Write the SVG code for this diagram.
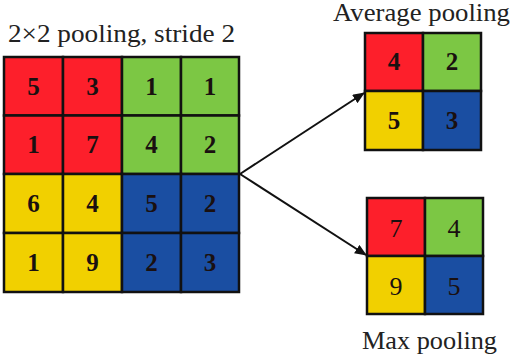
<svg xmlns="http://www.w3.org/2000/svg" width="512" height="354" viewBox="0 0 512 354">
<defs>
<style>
.r{fill:#fd1f2b}.g{fill:#7cc744}.y{fill:#f1d000}.b{fill:#1a4ea2}
.cell{stroke:#111;stroke-width:2.5}
.nb{font-family:'Liberation Serif','Times New Roman',Tinos,serif;font-weight:700;font-size:25px;text-anchor:middle;fill:#1a1010}
.nr{font-family:'Liberation Serif','Times New Roman',Tinos,serif;font-size:26px;text-anchor:middle;fill:#1a1010}
.lbl{font-family:'Liberation Serif','Times New Roman',Tinos,serif;font-size:25px;fill:#222}
.conn{stroke:#111;stroke-width:2;fill:none}
</style>
<marker id="ah" markerWidth="12" markerHeight="10" refX="11" refY="5" orient="auto" markerUnits="userSpaceOnUse">
<path d="M0,0 L12,5 L0,10 Z" fill="#111"/>
</marker>
</defs>
<rect width="512" height="354" fill="#fff"/>
<text class="lbl" x="8" y="42" textLength="227" lengthAdjust="spacingAndGlyphs">2×2 pooling, stride 2</text>
<g id="input-grid">
<rect class="cell r" x="4" y="57" width="59" height="58.5"/>
<rect class="cell r" x="63" y="57" width="59" height="58.5"/>
<rect class="cell g" x="122" y="57" width="59" height="58.5"/>
<rect class="cell g" x="181" y="57" width="58" height="58.5"/>
<rect class="cell r" x="4" y="115.5" width="59" height="58.5"/>
<rect class="cell r" x="63" y="115.5" width="59" height="58.5"/>
<rect class="cell g" x="122" y="115.5" width="59" height="58.5"/>
<rect class="cell g" x="181" y="115.5" width="58" height="58.5"/>
<rect class="cell y" x="4" y="174" width="59" height="59"/>
<rect class="cell y" x="63" y="174" width="59" height="59"/>
<rect class="cell b" x="122" y="174" width="59" height="59"/>
<rect class="cell b" x="181" y="174" width="58" height="59"/>
<rect class="cell y" x="4" y="233" width="59" height="59"/>
<rect class="cell y" x="63" y="233" width="59" height="59"/>
<rect class="cell b" x="122" y="233" width="59" height="59"/>
<rect class="cell b" x="181" y="233" width="58" height="59"/>
<text class="nb" x="33.5" y="95">5</text><text class="nb" x="92.5" y="95">3</text><text class="nb" x="151.5" y="95">1</text><text class="nb" x="210" y="95">1</text>
<text class="nb" x="33.5" y="153">1</text><text class="nb" x="92.5" y="153">7</text><text class="nb" x="151.5" y="153">4</text><text class="nb" x="210" y="153">2</text>
<text class="nb" x="33.5" y="212">6</text><text class="nb" x="92.5" y="212">4</text><text class="nb" x="151.5" y="212">5</text><text class="nb" x="210" y="212">2</text>
<text class="nb" x="33.5" y="271">1</text><text class="nb" x="92.5" y="271">9</text><text class="nb" x="151.5" y="271">2</text><text class="nb" x="210" y="271">3</text>
</g>
<g id="average-pooling">
<rect class="cell r" x="365" y="33" width="58" height="58"/>
<rect class="cell g" x="423" y="33" width="58" height="58"/>
<rect class="cell y" x="365" y="91" width="58" height="59"/>
<rect class="cell b" x="423" y="91" width="58" height="59"/>
<text class="nb" x="394" y="70">4</text><text class="nb" x="452" y="70">2</text>
<text class="nb" x="394" y="129">5</text><text class="nb" x="452" y="129">3</text>
<text class="lbl" x="333" y="21" font-size="22" textLength="177" lengthAdjust="spacingAndGlyphs">Average pooling</text>
</g>
<g id="max-pooling">
<rect class="cell r" x="367" y="198" width="58" height="58"/>
<rect class="cell g" x="425" y="198" width="58" height="58"/>
<rect class="cell y" x="367" y="256" width="58" height="58"/>
<rect class="cell b" x="425" y="256" width="58" height="58"/>
<text class="nr" x="396" y="237">7</text><text class="nr" x="454" y="237">4</text>
<text class="nr" x="396" y="295">9</text><text class="nr" x="454" y="295">5</text>
<text class="lbl" x="362" y="349" textLength="135" lengthAdjust="spacingAndGlyphs">Max pooling</text>
</g>
<g id="connectors">
<line class="conn" x1="240" y1="174" x2="364" y2="93" marker-end="url(#ah)"/>
<line class="conn" x1="240" y1="174" x2="366" y2="255" marker-end="url(#ah)"/>
</g>
</svg>
